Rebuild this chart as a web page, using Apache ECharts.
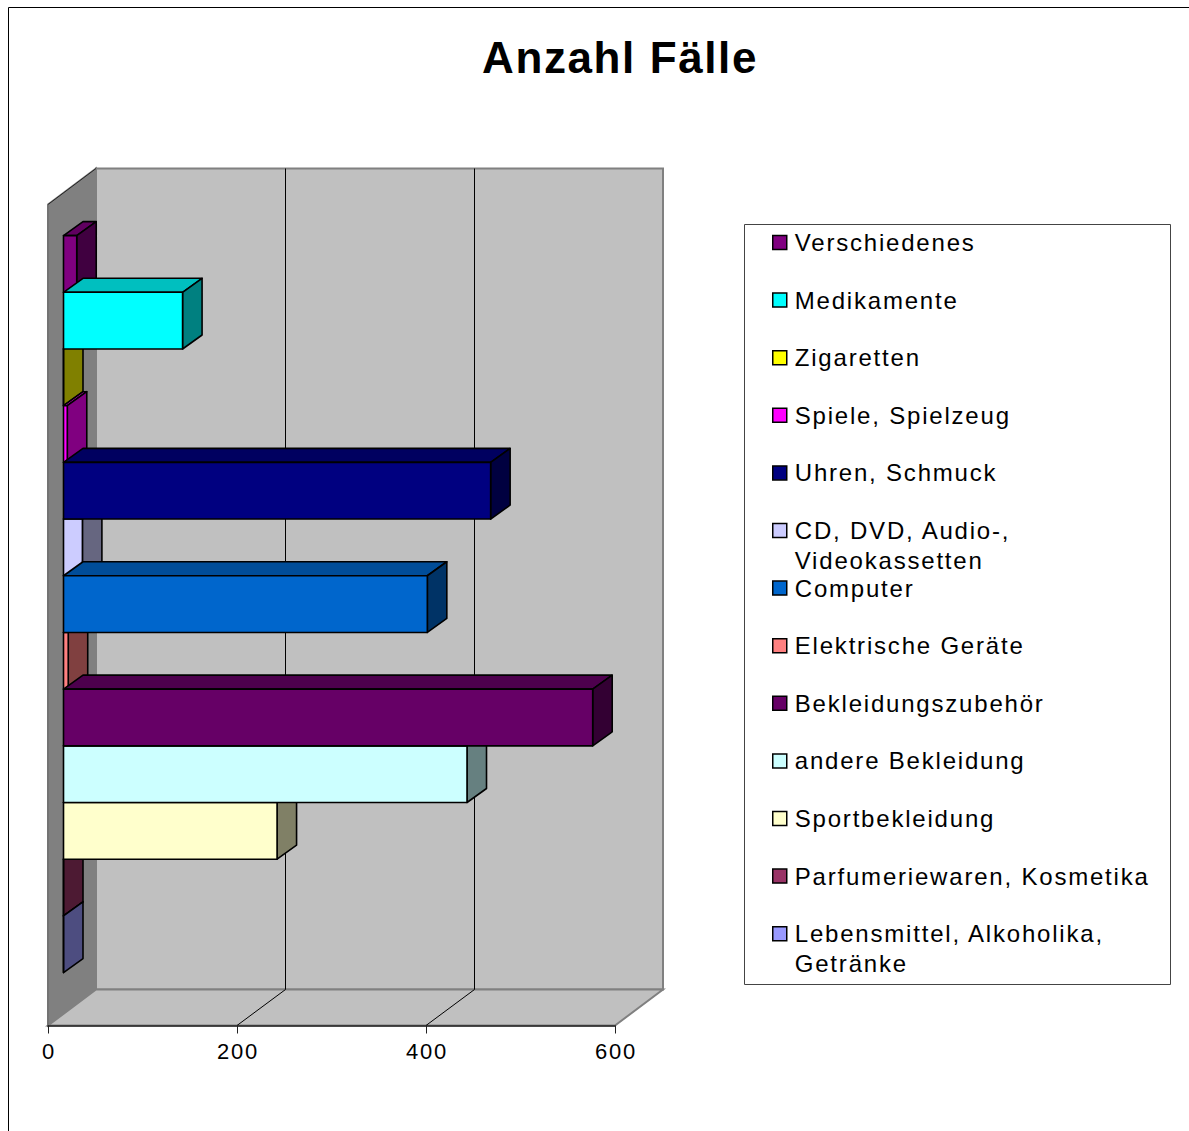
<!DOCTYPE html>
<html>
<head>
<meta charset="utf-8">
<title>Anzahl Fälle</title>
<script src="https://cdn.jsdelivr.net/npm/echarts@6/dist/echarts.min.js"></script>
<style>
html, body { margin: 0; padding: 0; background: #fff; overflow: hidden; }
#chart { width: 1189px; height: 1131px; }
/* the original has very wide glyph spacing */
#chart text { letter-spacing: 1.8px; }
#chart text[style*="bold"] { letter-spacing: 1.6px; }
</style>
</head>
<body>
<div id="chart"></div>
<script>
var names = ['Verschiedenes', 'Medikamente', 'Zigaretten', 'Spiele, Spielzeug', 'Uhren, Schmuck',
    'CD, DVD, Audio-,\nVideokassetten', 'Computer', 'Elektrische Geräte', 'Bekleidungszubehör',
    'andere Bekleidung', 'Sportbekleidung', 'Parfumeriewaren, Kosmetika', 'Lebensmittel, Alkoholika,\nGetränke'];
var values = [14, 126, 0, 4, 452, 20, 385, 5, 560, 427, 226, 0, 0];
var colors = ['#800080', '#00ffff', '#ffff00', '#ff00ff', '#000080', '#ccccff', '#0066cc',
    '#ff8080', '#660066', '#ccffff', '#ffffcc', '#993366', '#9999ff'];
var tickValues = [0, 200, 400, 600];

var myChart = echarts.init(document.getElementById('chart'), null, { renderer: 'svg' });

// depth of the box and of one bar, in px
var boxDx = 48, boxDy = 36;
var barDx = 19.5, barDy = 14;

function shade(hex, f) {
    var n = parseInt(hex.slice(1), 16);
    return 'rgb(' + Math.round((n >> 16 & 255) * f) + ',' + Math.round((n >> 8 & 255) * f) + ',' + Math.round((n & 255) * f) + ')';
}

// walls, floor and the gridlines that run over them
function renderBox(params, api) {
    var tl = api.coord([0, 1]), bl = api.coord([0, 0]), br = api.coord([600, 0]);
    var back = function (p) { return [p[0] + boxDx, p[1] - boxDy]; };
    var tr = api.coord([600, 1]);
    var edge = { stroke: '#808080', lineWidth: 2 };
    var children = [
        { type: 'polygon', shape: { points: [tl, back(tl), back(bl), bl] }, style: Object.assign({ fill: '#808080' }, edge) },
        { type: 'polygon', shape: { points: [back(tl), back(tr), back(br), back(bl)] }, style: Object.assign({ fill: '#c0c0c0' }, edge) },
        { type: 'polygon', shape: { points: [bl, back(bl), back(br), br] }, style: Object.assign({ fill: '#c0c0c0' }, edge) },
        { type: 'line', shape: { x1: tl[0], y1: tl[1], x2: back(tl)[0], y2: back(tl)[1] }, style: { stroke: '#222', lineWidth: 1 } },
        { type: 'line', shape: { x1: tl[0], y1: tl[1], x2: bl[0], y2: bl[1] }, style: { stroke: '#666', lineWidth: 1 } }
    ];
    tickValues.slice(1, -1).forEach(function (v) {
        var f = api.coord([v, 0]), b = back(f), t = back(api.coord([v, 1]));
        // half pixel so the wall line stays crisp
        var sx = Math.round(b[0]) + 0.5;
        children.push({ type: 'polyline', shape: { points: [f, [sx, b[1]], [sx, t[1]]] }, style: { fill: 'none', stroke: '#000', lineWidth: 1 } });
    });
    return { type: 'group', children: children };
}

function renderBar(params, api) {
    var val = api.value(0), row = api.value(1);
    var p0 = api.coord([0, row]), p1 = api.coord([val, row]);
    var h = api.size([0, 1])[1];
    var x0 = p0[0], x1 = p1[0], yt = p0[1] - h / 2, yb = p0[1] + h / 2;
    var col = colors[row];
    var line = { stroke: '#000', lineWidth: 1.6, lineJoin: 'round' };
    return {
        type: 'group',
        children: [
            { type: 'polygon', shape: { points: [[x0, yt], [x1, yt], [x1 + barDx, yt - barDy], [x0 + barDx, yt - barDy]] }, style: Object.assign({ fill: shade(col, 0.75) }, line) },
            { type: 'polygon', shape: { points: [[x1, yt], [x1 + barDx, yt - barDy], [x1 + barDx, yb - barDy], [x1, yb]] }, style: Object.assign({ fill: shade(col, 0.5) }, line) },
            { type: 'polygon', shape: { points: [[x0, yt], [x1, yt], [x1, yb], [x0, yb]] }, style: Object.assign({ fill: col }, line) }
        ]
    };
}

var series = [{
    type: 'custom',
    name: 'box',
    xAxisIndex: 0,
    yAxisIndex: 0,
    renderItem: renderBox,
    silent: true,
    z: 1,
    data: [[0, 0]]
}];
// short bars are painted first, longer ones overlap them
names.map(function (n, i) { return i; }).sort(function (a, b) {
    return values[a] - values[b] || a - b;
}).forEach(function (i) {
    series.push({
        type: 'custom',
        name: names[i],
        xAxisIndex: 1,
        yAxisIndex: 1,
        renderItem: renderBar,
        encode: { x: 0, y: 1 },
        itemStyle: { color: colors[i] },
        z: 2,
        data: [[values[i], i]]
    });
});

// one legend per entry: rows keep a fixed pitch even when a name takes two lines
var legends = names.map(function (name, i) {
    var twoLines = name.indexOf('\n') >= 0;
    return {
        data: [name],
        left: 772,
        top: 242.5 + i * 57.6 - (twoLines ? 45 : 15),
        padding: 0,
        itemWidth: 14,
        itemHeight: 14,
        icon: 'rect',
        selectedMode: false,
        itemStyle: { borderColor: '#000', borderWidth: 1.5 },
        textStyle: { fontFamily: 'Liberation Sans', fontSize: 24, lineHeight: 30, color: '#000', padding: [0, 0, 0, 3] },
        // blank first line keeps the marker level with the first text line
        formatter: function (n) { return twoLines ? '\n' + n : n; }
    };
});

myChart.setOption({
    animation: false,
    backgroundColor: '#fff',
    title: {
        text: 'Anzahl Fälle',
        left: 620,
        top: 35,
        textAlign: 'center',
        padding: 0,
        textStyle: { fontFamily: 'Liberation Sans', fontSize: 44, fontWeight: 'bold', color: '#000' }
    },
    graphic: [
        { type: 'rect', silent: true, z: 0, shape: { x: 8.5, y: 7.5, width: 1400, height: 1400 }, style: { fill: 'none', stroke: '#000', lineWidth: 1 } },
        { type: 'rect', silent: true, z: 0, shape: { x: 744.5, y: 224.5, width: 426, height: 760 }, style: { fill: '#fff', stroke: '#444', lineWidth: 1 } }
    ],
    legend: legends,
    grid: [
        { left: 48, width: 567, top: 204.5, height: 821 },
        { left: 63.5, width: 567, top: 235.6, height: 737 }
    ],
    xAxis: [
        {
            gridIndex: 0,
            type: 'value',
            min: 0,
            max: 600,
            interval: 200,
            z: 5,
            axisLine: { show: true, lineStyle: { color: '#222', width: 1.5 } },
            axisTick: { show: true, length: 8, lineStyle: { color: '#222', width: 1 } },
            axisLabel: { margin: 15, fontFamily: 'Liberation Sans', fontSize: 22, color: '#000', padding: [0, 0, 0, 2] },
            splitLine: { show: false }
        },
        { gridIndex: 1, type: 'value', min: 0, max: 600, show: false }
    ],
    yAxis: [
        { gridIndex: 0, type: 'value', min: 0, max: 1, show: false },
        { gridIndex: 1, type: 'category', data: names, inverse: true, show: false }
    ],
    series: series
});
</script>
</body>
</html>
